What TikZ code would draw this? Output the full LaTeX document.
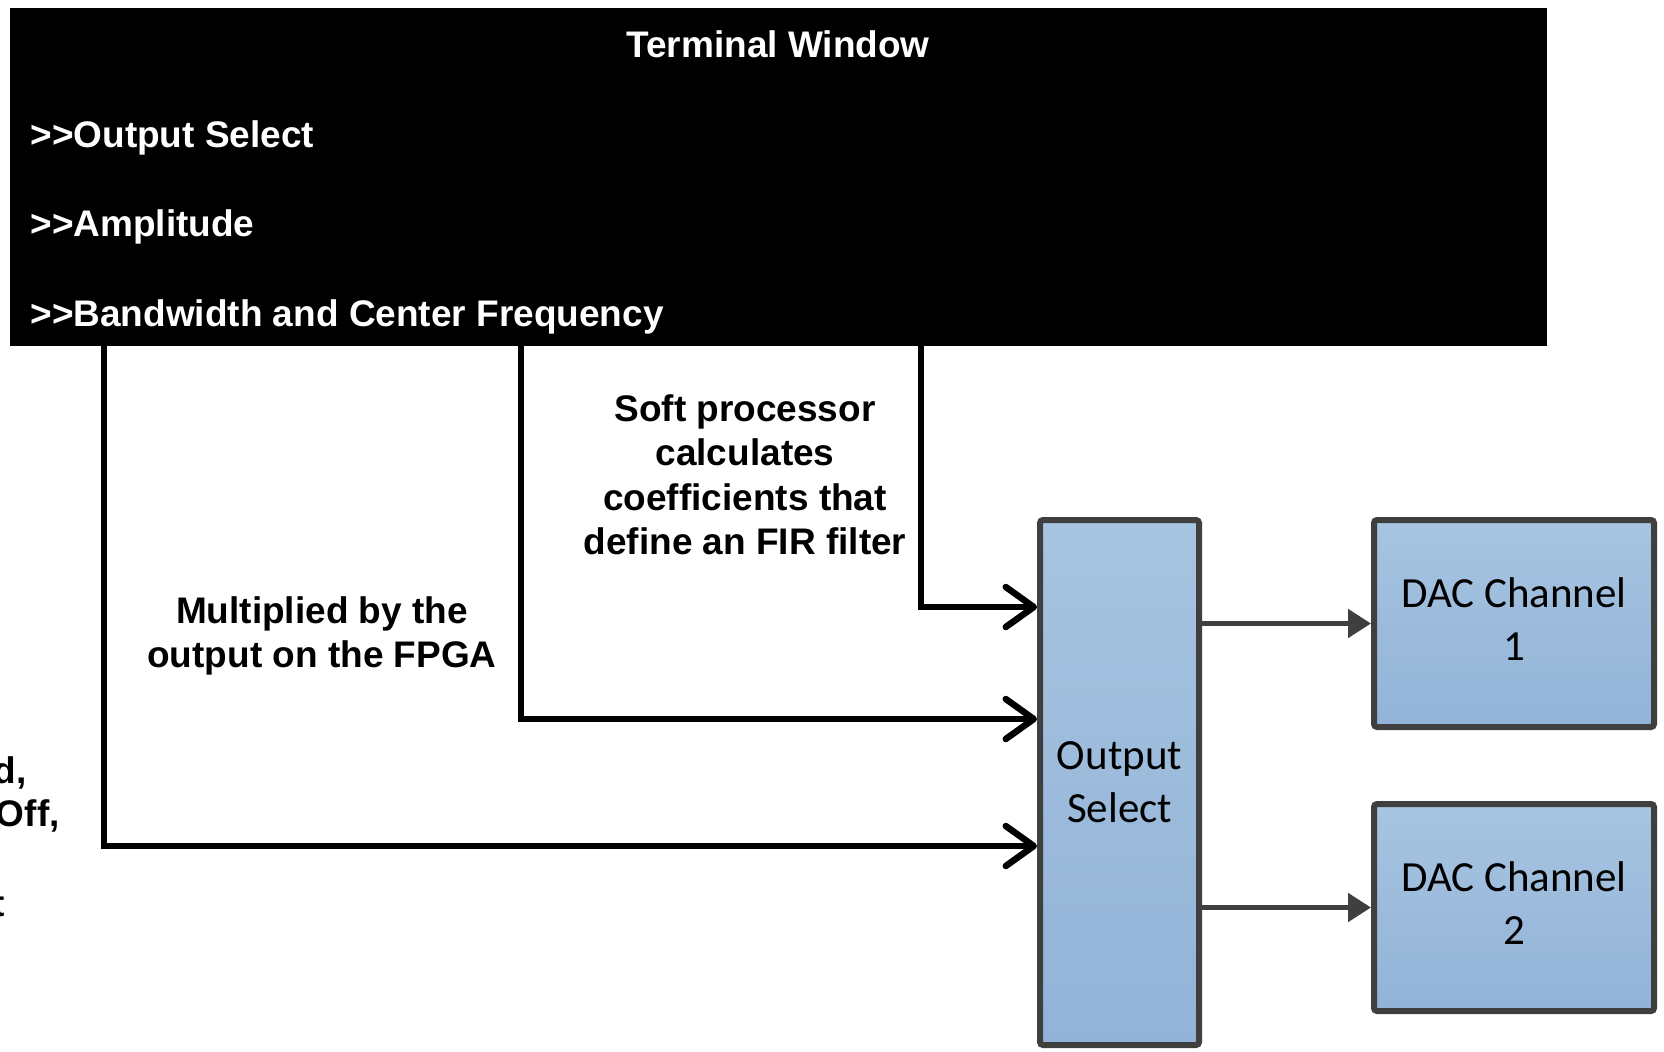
\documentclass[tikz,border=0pt]{standalone}
\usepackage{amsmath, amssymb}
\usepackage{xcolor}
\usepackage{fontspec}
\setmainfont{Liberation Sans}
\newfontfamily\carlito{Carlito}
\usepackage{tikz}
\usetikzlibrary{arrows.meta, positioning}

\definecolor{azulclaro}{HTML}{A7C4E0}
\definecolor{azulescuro}{HTML}{92B3D8}
\definecolor{cinza}{HTML}{3F3F3F}

\begin{document}
\begin{tikzpicture}[
		    x=0.5pt, y=-0.5pt,
		    every node/.style={inner sep=0pt, font=\bfseries\fontsize{18.5}{22.25}\selectfont}
		]
		\tikzset{
		    caixa/.style={draw=cinza, line width=3pt, outer sep=1.5pt, rounded corners=1.5pt, top color=azulclaro, bottom color=azulescuro, align=center, font=\carlito\fontsize{21.5}{26.5}\selectfont},
		    tela/.style={fill=black, minimum width=768.5pt, minimum height=169pt},
		    branco/.style={text=white},
		    texto/.style={align=center},
		    seta/.style={line width=3.25pt, -{Straight Barb[length=14pt, width=20pt, round]}},
		    setacinza/.style={draw=cinza, line width=2.5pt, -{Triangle[length=11.5pt, width=14pt]}}
		}
		\useasboundingbox (0,0) rectangle (1664,1051);
		\node[tela] (term) at (778.5,177) {};
		\node[branco, anchor=base] (titulo) at (778,57) {Terminal Window};
		\node[branco, anchor=base west] (cmdsaida) at (30,147) {>\kern0pt>Output Select};
		\node[branco, anchor=base west] (cmdamp) at (30,236) {>\kern0pt>Amplitude};
		\node[branco, anchor=base west] (cmdbanda) at (30,326) {>\kern0pt>Bandwidth and Center Frequency};
		\node[caixa, minimum width=79.5pt, minimum height=262.5pt] (os) at (1119.5,782.5) {Output\\Select};
		\node[caixa, minimum width=140pt, minimum height=103.5pt] (dac1) at (1514,623.5) {DAC Channel\\1\rule[-4pt]{0pt}{0pt}};
		\node[caixa, minimum width=140pt, minimum height=103.5pt, below=35.5pt of dac1] (dac2) {DAC Channel\\2\rule[-4pt]{0pt}{0pt}};
		\node[texto] (soft) at (745,475) {Soft processor\\calculates\\coefficients that\\define an FIR filter};
		\node[texto] (mult) at (322,636) {Multiplied by the\\output on the FPGA};
		\node[anchor=base east] (fragd) at (27,783) {d,};
		\node[anchor=base east] (fragoff) at (60,826) {Off,};
		\node[anchor=base east] (fragt) at (5,916) {t};
		\coordinate (c1) at (921,607);
		\coordinate (c2) at (521,719);
		\coordinate (c3) at (104,846);
		\draw[seta] (term.south -| c1) |- (os.west |- c1);
		\draw[seta] (term.south -| c2) |- (os.west |- c2);
		\draw[seta] (term.south -| c3) |- (os.west |- c3);
		\draw[setacinza] (os.east |- dac1.west) -- (dac1.west);
		\draw[setacinza] (os.east |- dac2.west) -- (dac2.west);
		\end{tikzpicture}
\end{document}
